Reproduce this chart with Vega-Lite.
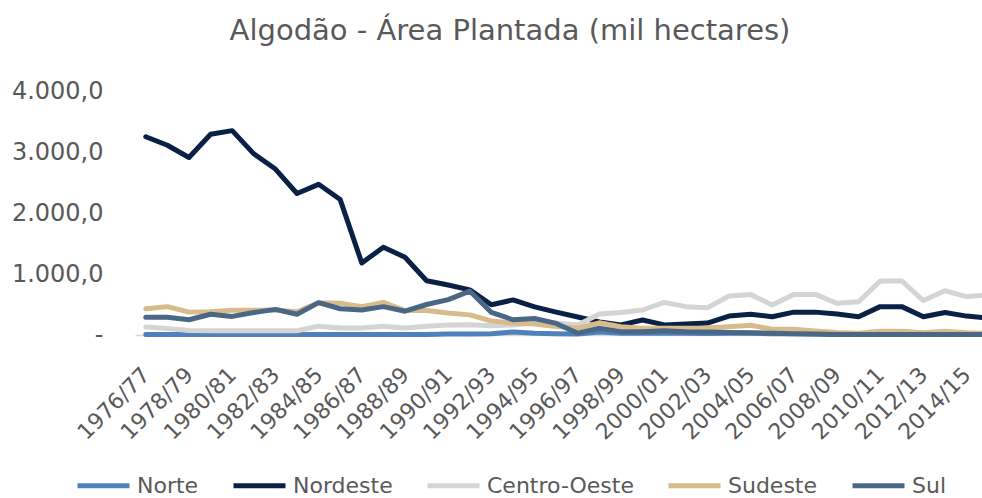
{
  "$schema": "https://vega.github.io/schema/vega-lite/v6.json",
  "autosize": {"type": "none"},
  "width": 846,
  "height": 244,
  "padding": {"left": 135, "top": 91, "right": 1, "bottom": 163},
  "background": "white",
  "title": {"text": "Algodão - Área Plantada (mil hectares)", "font": "DejaVu Sans", "fontSize": 29, "fontWeight": "normal", "color": "#595959", "anchor": "middle", "frame": "group", "dx": -48, "offset": 33},
  "data": {"values": [
    {"safra":"1976/77","regiao":"Norte","area":10},{"safra":"1977/78","regiao":"Norte","area":10},{"safra":"1978/79","regiao":"Norte","area":10},{"safra":"1979/80","regiao":"Norte","area":10},{"safra":"1980/81","regiao":"Norte","area":10},{"safra":"1981/82","regiao":"Norte","area":10},{"safra":"1982/83","regiao":"Norte","area":10},{"safra":"1983/84","regiao":"Norte","area":10},{"safra":"1984/85","regiao":"Norte","area":10},{"safra":"1985/86","regiao":"Norte","area":10},{"safra":"1986/87","regiao":"Norte","area":10},{"safra":"1987/88","regiao":"Norte","area":10},{"safra":"1988/89","regiao":"Norte","area":10},{"safra":"1989/90","regiao":"Norte","area":10},{"safra":"1990/91","regiao":"Norte","area":15},{"safra":"1991/92","regiao":"Norte","area":15},{"safra":"1992/93","regiao":"Norte","area":20},{"safra":"1993/94","regiao":"Norte","area":50},{"safra":"1994/95","regiao":"Norte","area":30},{"safra":"1995/96","regiao":"Norte","area":20},{"safra":"1996/97","regiao":"Norte","area":15},{"safra":"1997/98","regiao":"Norte","area":50},{"safra":"1998/99","regiao":"Norte","area":30},{"safra":"1999/00","regiao":"Norte","area":30},{"safra":"2000/01","regiao":"Norte","area":30},{"safra":"2001/02","regiao":"Norte","area":30},{"safra":"2002/03","regiao":"Norte","area":25},{"safra":"2003/04","regiao":"Norte","area":30},{"safra":"2004/05","regiao":"Norte","area":30},{"safra":"2005/06","regiao":"Norte","area":20},{"safra":"2006/07","regiao":"Norte","area":20},{"safra":"2007/08","regiao":"Norte","area":15},{"safra":"2008/09","regiao":"Norte","area":10},{"safra":"2009/10","regiao":"Norte","area":10},{"safra":"2010/11","regiao":"Norte","area":10},{"safra":"2011/12","regiao":"Norte","area":10},{"safra":"2012/13","regiao":"Norte","area":10},{"safra":"2013/14","regiao":"Norte","area":10},{"safra":"2014/15","regiao":"Norte","area":10},{"safra":"2015/16","regiao":"Norte","area":10},
    {"safra":"1976/77","regiao":"Nordeste","area":3250},{"safra":"1977/78","regiao":"Nordeste","area":3110},{"safra":"1978/79","regiao":"Nordeste","area":2910},{"safra":"1979/80","regiao":"Nordeste","area":3290},{"safra":"1980/81","regiao":"Nordeste","area":3350},{"safra":"1981/82","regiao":"Nordeste","area":2970},{"safra":"1982/83","regiao":"Nordeste","area":2720},{"safra":"1983/84","regiao":"Nordeste","area":2320},{"safra":"1984/85","regiao":"Nordeste","area":2470},{"safra":"1985/86","regiao":"Nordeste","area":2220},{"safra":"1986/87","regiao":"Nordeste","area":1180},{"safra":"1987/88","regiao":"Nordeste","area":1440},{"safra":"1988/89","regiao":"Nordeste","area":1275},{"safra":"1989/90","regiao":"Nordeste","area":890},{"safra":"1990/91","regiao":"Nordeste","area":820},{"safra":"1991/92","regiao":"Nordeste","area":740},{"safra":"1992/93","regiao":"Nordeste","area":495},{"safra":"1993/94","regiao":"Nordeste","area":575},{"safra":"1994/95","regiao":"Nordeste","area":460},{"safra":"1995/96","regiao":"Nordeste","area":375},{"safra":"1996/97","regiao":"Nordeste","area":295},{"safra":"1997/98","regiao":"Nordeste","area":215},{"safra":"1998/99","regiao":"Nordeste","area":165},{"safra":"1999/00","regiao":"Nordeste","area":245},{"safra":"2000/01","regiao":"Nordeste","area":165},{"safra":"2001/02","regiao":"Nordeste","area":180},{"safra":"2002/03","regiao":"Nordeste","area":195},{"safra":"2003/04","regiao":"Nordeste","area":310},{"safra":"2004/05","regiao":"Nordeste","area":340},{"safra":"2005/06","regiao":"Nordeste","area":300},{"safra":"2006/07","regiao":"Nordeste","area":375},{"safra":"2007/08","regiao":"Nordeste","area":375},{"safra":"2008/09","regiao":"Nordeste","area":345},{"safra":"2009/10","regiao":"Nordeste","area":300},{"safra":"2010/11","regiao":"Nordeste","area":465},{"safra":"2011/12","regiao":"Nordeste","area":465},{"safra":"2012/13","regiao":"Nordeste","area":300},{"safra":"2013/14","regiao":"Nordeste","area":370},{"safra":"2014/15","regiao":"Nordeste","area":310},{"safra":"2015/16","regiao":"Nordeste","area":275},
    {"safra":"1976/77","regiao":"Centro-Oeste","area":130},{"safra":"1977/78","regiao":"Centro-Oeste","area":105},{"safra":"1978/79","regiao":"Centro-Oeste","area":75},{"safra":"1979/80","regiao":"Centro-Oeste","area":70},{"safra":"1980/81","regiao":"Centro-Oeste","area":70},{"safra":"1981/82","regiao":"Centro-Oeste","area":70},{"safra":"1982/83","regiao":"Centro-Oeste","area":70},{"safra":"1983/84","regiao":"Centro-Oeste","area":70},{"safra":"1984/85","regiao":"Centro-Oeste","area":145},{"safra":"1985/86","regiao":"Centro-Oeste","area":115},{"safra":"1986/87","regiao":"Centro-Oeste","area":115},{"safra":"1987/88","regiao":"Centro-Oeste","area":145},{"safra":"1988/89","regiao":"Centro-Oeste","area":115},{"safra":"1989/90","regiao":"Centro-Oeste","area":145},{"safra":"1990/91","regiao":"Centro-Oeste","area":165},{"safra":"1991/92","regiao":"Centro-Oeste","area":170},{"safra":"1992/93","regiao":"Centro-Oeste","area":150},{"safra":"1993/94","regiao":"Centro-Oeste","area":165},{"safra":"1994/95","regiao":"Centro-Oeste","area":195},{"safra":"1995/96","regiao":"Centro-Oeste","area":195},{"safra":"1996/97","regiao":"Centro-Oeste","area":165},{"safra":"1997/98","regiao":"Centro-Oeste","area":345},{"safra":"1998/99","regiao":"Centro-Oeste","area":370},{"safra":"1999/00","regiao":"Centro-Oeste","area":410},{"safra":"2000/01","regiao":"Centro-Oeste","area":535},{"safra":"2001/02","regiao":"Centro-Oeste","area":465},{"safra":"2002/03","regiao":"Centro-Oeste","area":445},{"safra":"2003/04","regiao":"Centro-Oeste","area":640},{"safra":"2004/05","regiao":"Centro-Oeste","area":665},{"safra":"2005/06","regiao":"Centro-Oeste","area":490},{"safra":"2006/07","regiao":"Centro-Oeste","area":665},{"safra":"2007/08","regiao":"Centro-Oeste","area":665},{"safra":"2008/09","regiao":"Centro-Oeste","area":520},{"safra":"2009/10","regiao":"Centro-Oeste","area":545},{"safra":"2010/11","regiao":"Centro-Oeste","area":885},{"safra":"2011/12","regiao":"Centro-Oeste","area":885},{"safra":"2012/13","regiao":"Centro-Oeste","area":565},{"safra":"2013/14","regiao":"Centro-Oeste","area":725},{"safra":"2014/15","regiao":"Centro-Oeste","area":630},{"safra":"2015/16","regiao":"Centro-Oeste","area":655},
    {"safra":"1976/77","regiao":"Sudeste","area":430},{"safra":"1977/78","regiao":"Sudeste","area":465},{"safra":"1978/79","regiao":"Sudeste","area":375},{"safra":"1979/80","regiao":"Sudeste","area":380},{"safra":"1980/81","regiao":"Sudeste","area":405},{"safra":"1981/82","regiao":"Sudeste","area":405},{"safra":"1982/83","regiao":"Sudeste","area":410},{"safra":"1983/84","regiao":"Sudeste","area":380},{"safra":"1984/85","regiao":"Sudeste","area":530},{"safra":"1985/86","regiao":"Sudeste","area":520},{"safra":"1986/87","regiao":"Sudeste","area":465},{"safra":"1987/88","regiao":"Sudeste","area":535},{"safra":"1988/89","regiao":"Sudeste","area":400},{"safra":"1989/90","regiao":"Sudeste","area":400},{"safra":"1990/91","regiao":"Sudeste","area":360},{"safra":"1991/92","regiao":"Sudeste","area":330},{"safra":"1992/93","regiao":"Sudeste","area":230},{"safra":"1993/94","regiao":"Sudeste","area":195},{"safra":"1994/95","regiao":"Sudeste","area":180},{"safra":"1995/96","regiao":"Sudeste","area":140},{"safra":"1996/97","regiao":"Sudeste","area":110},{"safra":"1997/98","regiao":"Sudeste","area":200},{"safra":"1998/99","regiao":"Sudeste","area":135},{"safra":"1999/00","regiao":"Sudeste","area":110},{"safra":"2000/01","regiao":"Sudeste","area":110},{"safra":"2001/02","regiao":"Sudeste","area":110},{"safra":"2002/03","regiao":"Sudeste","area":115},{"safra":"2003/04","regiao":"Sudeste","area":135},{"safra":"2004/05","regiao":"Sudeste","area":160},{"safra":"2005/06","regiao":"Sudeste","area":95},{"safra":"2006/07","regiao":"Sudeste","area":95},{"safra":"2007/08","regiao":"Sudeste","area":65},{"safra":"2008/09","regiao":"Sudeste","area":40},{"safra":"2009/10","regiao":"Sudeste","area":30},{"safra":"2010/11","regiao":"Sudeste","area":60},{"safra":"2011/12","regiao":"Sudeste","area":60},{"safra":"2012/13","regiao":"Sudeste","area":35},{"safra":"2013/14","regiao":"Sudeste","area":60},{"safra":"2014/15","regiao":"Sudeste","area":35},{"safra":"2015/16","regiao":"Sudeste","area":25},
    {"safra":"1976/77","regiao":"Sul","area":290},{"safra":"1977/78","regiao":"Sul","area":290},{"safra":"1978/79","regiao":"Sul","area":250},{"safra":"1979/80","regiao":"Sul","area":340},{"safra":"1980/81","regiao":"Sul","area":305},{"safra":"1981/82","regiao":"Sul","area":370},{"safra":"1982/83","regiao":"Sul","area":420},{"safra":"1983/84","regiao":"Sul","area":340},{"safra":"1984/85","regiao":"Sul","area":530},{"safra":"1985/86","regiao":"Sul","area":430},{"safra":"1986/87","regiao":"Sul","area":410},{"safra":"1987/88","regiao":"Sul","area":465},{"safra":"1988/89","regiao":"Sul","area":390},{"safra":"1989/90","regiao":"Sul","area":500},{"safra":"1990/91","regiao":"Sul","area":580},{"safra":"1991/92","regiao":"Sul","area":720},{"safra":"1992/93","regiao":"Sul","area":370},{"safra":"1993/94","regiao":"Sul","area":250},{"safra":"1994/95","regiao":"Sul","area":270},{"safra":"1995/96","regiao":"Sul","area":190},{"safra":"1996/97","regiao":"Sul","area":30},{"safra":"1997/98","regiao":"Sul","area":110},{"safra":"1998/99","regiao":"Sul","area":55},{"safra":"1999/00","regiao":"Sul","area":55},{"safra":"2000/01","regiao":"Sul","area":70},{"safra":"2001/02","regiao":"Sul","area":55},{"safra":"2002/03","regiao":"Sul","area":50},{"safra":"2003/04","regiao":"Sul","area":40},{"safra":"2004/05","regiao":"Sul","area":35},{"safra":"2005/06","regiao":"Sul","area":30},{"safra":"2006/07","regiao":"Sul","area":20},{"safra":"2007/08","regiao":"Sul","area":15},{"safra":"2008/09","regiao":"Sul","area":10},{"safra":"2009/10","regiao":"Sul","area":10},{"safra":"2010/11","regiao":"Sul","area":10},{"safra":"2011/12","regiao":"Sul","area":10},{"safra":"2012/13","regiao":"Sul","area":10},{"safra":"2013/14","regiao":"Sul","area":10},{"safra":"2014/15","regiao":"Sul","area":10},{"safra":"2015/16","regiao":"Sul","area":10}
  ]},
  "mark": {"type": "line", "strokeWidth": 5, "strokeCap": "round", "strokeJoin": "round"},
  "encoding": {
    "x": {"field": "safra", "type": "ordinal", "sort": "ascending",
      "scale": {"type": "point", "padding": 0.5, "range": [0, 864]},
      "axis": {"title": null, "ticks": false, "domain": true, "domainColor": "#d9d9d9", "domainWidth": 1.5, "labelAngle": -45, "labelAlign": "right", "labelBaseline": "middle", "labelFont": "DejaVu Sans", "labelFontSize": 22, "labelColor": "#595959", "labelPadding": 36,
        "values": ["1976/77","1978/79","1980/81","1982/83","1984/85","1986/87","1988/89","1990/91","1992/93","1994/95","1996/97","1998/99","2000/01","2002/03","2004/05","2006/07","2008/09","2010/11","2012/13","2014/15"]}},
    "y": {"field": "area", "type": "quantitative", "scale": {"domain": [0, 4000]},
      "axis": {"title": null, "grid": false, "domain": false, "ticks": false, "values": [0, 1000, 2000, 3000, 4000], "labelFont": "DejaVu Sans", "labelFontSize": 24, "labelColor": "#595959", "labelPadding": 32,
        "labelExpr": "datum.value == 0 ? '-\u2002' : format(datum.value / 1000, 'd') + '.000,0'"}},
    "color": {"field": "regiao", "type": "nominal", "sort": null,
      "scale": {"domain": ["Norte", "Nordeste", "Centro-Oeste", "Sudeste", "Sul"], "range": ["#4f81bd", "#0b2045", "#d4d4d4", "#d8bb8b", "#4a6885"]},
      "legend": {"title": null, "orient": "none", "legendX": -60, "legendY": 366, "direction": "horizontal", "symbolType": "stroke", "symbolSize": 2704, "symbolStrokeWidth": 5, "labelFont": "DejaVu Sans", "labelFontSize": 22, "labelColor": "#595959", "labelOffset": 5, "columnPadding": 24}}
  },
  "config": {"view": {"stroke": null}}
}
